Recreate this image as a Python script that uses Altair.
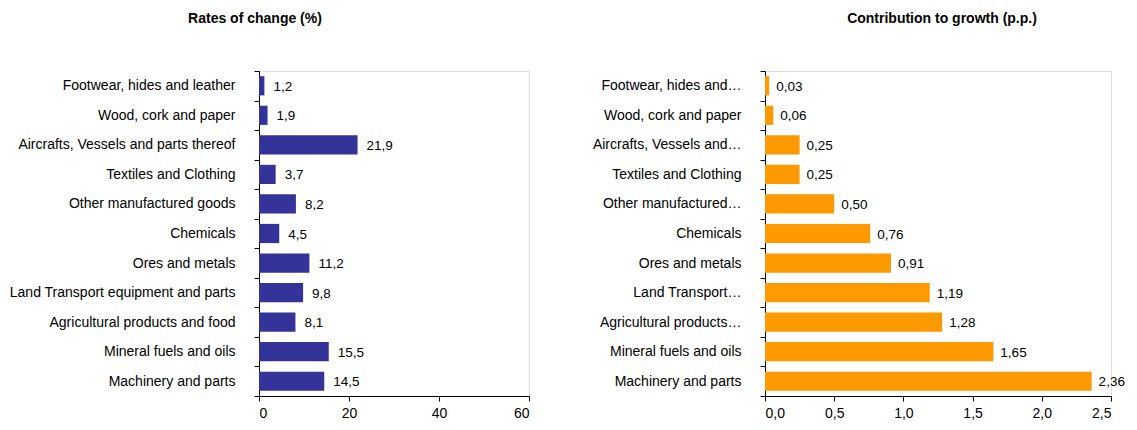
import altair as alt
import pandas as pd

categories = [
    "Footwear, hides and leather",
    "Wood, cork and paper",
    "Aircrafts, Vessels and parts thereof",
    "Textiles and Clothing\u00a0",
    "Other manufactured goods",
    "Chemicals",
    "Ores and metals\u00a0",
    "Land Transport equipment and parts",
    "Agricultural products and food",
    "Mineral fuels and oils",
    "Machinery and parts",
]
short_labels = [
    "Footwear, hides and…",
    "Wood, cork and paper\u00a0",
    "Aircrafts, Vessels and…",
    "Textiles and Clothing\u00a0",
    "Other manufactured…",
    "Chemicals\u00a0",
    "Ores and metals\u00a0",
    "Land Transport…",
    "Agricultural products…",
    "Mineral fuels and oils\u00a0",
    "Machinery and parts\u00a0",
]
rates = [1.2, 1.9, 21.9, 3.7, 8.2, 4.5, 11.2, 9.8, 8.1, 15.5, 14.5]
contrib = [0.03, 0.06, 0.25, 0.25, 0.50, 0.76, 0.91, 1.19, 1.28, 1.65, 2.36]

left_ticks = [0, 20, 40, 60]
right_ticks = [0, 0.5, 1.0, 1.5, 2.0, 2.5]

FONT = "Liberation Sans, Arial, sans-serif"

df = pd.DataFrame({"cat": categories, "short": short_labels, "rate": rates, "contrib": contrib})

W_L, W_R, H = 270, 346, 325


def yaxis():
    return alt.Axis(
        title=None, tickBand="extent", tickSize=5, labelPadding=19,
        labelFont=FONT, labelFontSize=14, labelColor="#000", labelLimit=400,
        domainColor="#000", tickColor="#000", grid=False,
    )


def xaxis(values, expr):
    return alt.Axis(
        title=None, values=values, labelExpr=expr, tickSize=5, labelPadding=5,
        labelFont=FONT, labelFontSize=14, labelColor="#000",
        domainColor="#000", tickColor="#000", grid=False,
    )


yscale = alt.Scale(paddingInner=0, paddingOuter=0)

base_l = alt.Chart(df).transform_calculate(
    lbl="replace(format(datum.rate, '.1f'), '.', ',')"
).encode(y=alt.Y("cat:N", sort=categories, scale=yscale, axis=yaxis()))

bars_l = base_l.mark_bar(color="#333399", height=alt.RelativeBandSize(band=0.65)).encode(
    x=alt.X("rate:Q", scale=alt.Scale(domain=[0, 60], nice=False),
            axis=xaxis(left_ticks, "format(datum.value, 'd')"))
)
text_l = base_l.mark_text(align="left", baseline="middle", dx=9, dy=1, font=FONT, fontSize=13.5, color="#000").encode(
    x="rate:Q", text="lbl:N"
)
left = (bars_l + text_l).properties(
    width=W_L, height=H,
    title=alt.TitleParams("Rates of change (%)", font=FONT, fontSize=14, fontWeight="bold",
                          anchor="middle", frame="group", dx=-139, offset=38, color="#000"),
)

base_r = alt.Chart(df).transform_calculate(
    lbl="replace(format(datum.contrib, '.2f'), '.', ',')"
).encode(y=alt.Y("short:N", sort=short_labels, scale=yscale, axis=yaxis()))

bars_r = base_r.mark_bar(color="#FF9900", height=alt.RelativeBandSize(band=0.65)).encode(
    x=alt.X("contrib:Q", scale=alt.Scale(domain=[0, 2.5], nice=False),
            axis=xaxis(right_ticks, "replace(format(datum.value, '.1f'), '.', ',')"))
)
text_r = base_r.mark_text(align="left", baseline="middle", dx=7, dy=1, font=FONT, fontSize=13.5, color="#000").encode(
    x="contrib:Q", text="lbl:N"
)
right = (bars_r + text_r).properties(
    width=W_R, height=H,
    title=alt.TitleParams("Contribution to growth (p.p.)", font=FONT, fontSize=14, fontWeight="bold",
                          anchor="middle", frame="group", dx=4, offset=38, color="#000"),
)

chart = alt.hconcat(left, right, spacing=61).configure_view(stroke=None).configure(
    background="white"
).properties(padding={"left": 0, "right": 0, "top": 3, "bottom": 0})

chart.save("out.html", embed_options={"renderer": "svg", "actions": False})
